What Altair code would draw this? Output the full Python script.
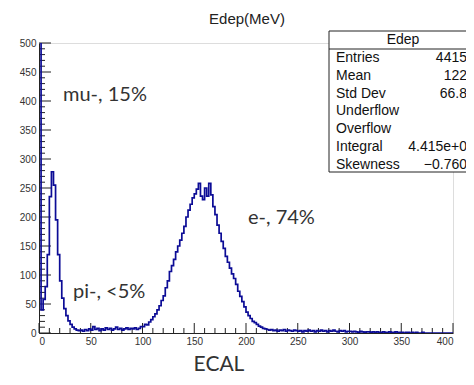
import altair as alt
import pandas as pd

# ---------------- data ----------------
bin_width = 2  # MeV
counts = (
    # 0 - 38
    [900, 40, 58, 80, 135, 235, 278, 255, 195, 135, 90, 60, 42, 30, 21, 15, 10, 7, 5, 4]
    # 40 - 98
    + [5, 3, 6, 4, 7, 5, 11, 6, 8, 4, 7, 5, 9, 6, 8, 5, 7, 10, 6, 8, 5, 7, 9, 6, 8, 7, 9, 6, 8, 11]
    # 100 - 218
    + [11, 15, 14, 19, 23, 28, 33, 40, 47, 56, 64, 78, 90, 106, 116, 127, 140, 150, 160, 172,
       184, 200, 212, 222, 233, 240, 248, 258, 236, 230, 250, 236, 258, 238, 218, 204, 186, 172, 158, 146,
       132, 122, 112, 102, 94, 84, 72, 63, 54, 45, 36, 30, 25, 20, 18, 15, 12, 10, 8, 7]
    # 220 - 298
    + [6, 5, 6, 4, 5, 3, 5, 4, 6, 3, 5, 4, 3, 5, 4, 3, 4, 2, 4, 3,
       5, 3, 4, 2, 4, 3, 5, 3, 4, 2, 4, 3, 5, 3, 2, 4, 3, 4, 2, 3]
    # 300 - 398
    + [3, 2, 3, 2, 1, 3, 2, 1, 2, 2, 1, 2, 1, 2, 1, 1, 2, 1, 1, 2, 1, 1, 2, 1, 1,
       1, 0, 1, 1, 0, 1, 0, 1, 0, 0, 1, 0, 0,
       0, 0, 0, 0, 0, 0, 0, 0, 0, 0, 0, 0]
)
x_ticks = [0, 50, 100, 150, 200, 250, 300, 350, 400]
y_ticks = [0, 50, 100, 150, 200, 250, 300, 350, 400, 450, 500]
chart_title = "Edep(MeV)"
x_title = "ECAL"
stat_header = "Edep"
stat_names = ["Entries", "Mean", "Std Dev", "Underflow", "Overflow", "Integral", "Skewness"]
stat_values = ["4415", "122", "66.8", "", "", "4.415e+0", "\u22120.760"]
annotations = ["mu-, 15%", "pi-, <5%", "e-, 74%"]

# ---------------- build ----------------
edges = [i * bin_width for i in range(len(counts))] + [len(counts) * bin_width]
hist = pd.DataFrame({"x": edges, "y": counts + [counts[-1]]})

xs = alt.Scale(domain=[0, 400], nice=False, zero=False)
ys = alt.Scale(domain=[0, 500], nice=False)

W, H = 414, 290
LINE = "#0c0c96"
TXT = "#333333"

axis_common = dict(ticks=False, grid=False, labelFontSize=10, labelFont="Liberation Sans",
                   labelColor="#333333", domainColor="#222222", title=None, zindex=1,
                   labelPadding=3, labelOverlap=False)
xa = alt.Axis(values=x_ticks, **axis_common)
ya = alt.Axis(values=y_ticks, **axis_common)

xt = pd.DataFrame({"x": list(range(0, 401, 10))})
yt = pd.DataFrame({"y": list(range(0, 501, 10))})

x_minor = alt.Chart(xt).transform_filter("datum.x % 50 != 0").mark_rule(color="#222222", strokeWidth=1).encode(
    x=alt.X("x:Q", scale=xs, axis=xa), y=alt.value(H), y2=alt.value(H - 5))
x_major = alt.Chart(xt).transform_filter("datum.x % 50 == 0").mark_rule(color="#222222", strokeWidth=1).encode(
    x=alt.X("x:Q", scale=xs, axis=xa), y=alt.value(H), y2=alt.value(H - 10))
y_minor = alt.Chart(yt).transform_filter("datum.y % 50 != 0").mark_rule(color="#222222", strokeWidth=1).encode(
    y=alt.Y("y:Q", scale=ys, axis=ya), x=alt.value(0), x2=alt.value(6))
y_major = alt.Chart(yt).transform_filter("datum.y % 50 == 0").mark_rule(color="#222222", strokeWidth=1).encode(
    y=alt.Y("y:Q", scale=ys, axis=ya), x=alt.value(0), x2=alt.value(12))

line = alt.Chart(hist).mark_line(interpolate="step-after", color=LINE, strokeWidth=1.7, clip=True).encode(
    x=alt.X("x:Q", scale=xs, axis=xa),
    y=alt.Y("y:Q", scale=ys, axis=ya),
)


def label(text, x, y, size, font, align="left", color=TXT, baseline="middle"):
    return alt.Chart(pd.DataFrame({"t": [text]})).mark_text(
        align=align, baseline=baseline, fontSize=size, font=font, color=color
    ).encode(text="t:N", x=alt.value(x), y=alt.value(y))


layers = [x_minor, x_major, y_minor, y_major, line]

# title and x title
layers.append(label(chart_title, 208, -24, 15, "Liberation Sans", align="center", color="#222222"))
layers.append(label(x_title, 180, 332, 21, "Lato", align="center", baseline="bottom"))

# annotations
ann_pos = [(24, 52), (34, 249), (209, 175)]
for text, (ax, ay) in zip(annotations, ann_pos):
    layers.append(label(text, ax, ay, 20, "Lato"))

# stats box
box = alt.Chart(pd.DataFrame({"a": [0]})).mark_rect(fill="white", stroke="#222222", strokeWidth=1).encode(
    x=alt.value(290), x2=alt.value(450), y=alt.value(-12), y2=alt.value(129))
hdr_line = alt.Chart(pd.DataFrame({"a": [0]})).mark_rule(color="#222222", strokeWidth=1).encode(
    x=alt.value(290), x2=alt.value(450), y=alt.value(6))
layers += [box, hdr_line]
layers.append(label(stat_header, 364, -3, 14, "Liberation Sans", align="center", color="#111111"))
for i, (n, v) in enumerate(zip(stat_names, stat_values)):
    yy = 15 + i * 17.8
    layers.append(label(n, 297, yy, 14, "Liberation Sans", color="#111111"))
    if v:
        layers.append(label(v, 428, yy, 14, "Liberation Sans", align="right", color="#111111"))

chart = alt.layer(*layers).properties(
    width=W, height=H,
    autosize=alt.AutoSizeParams(type="none"),
    padding={"left": 31, "right": 13, "top": 35, "bottom": 44},
).configure_view(stroke="#222222", strokeWidth=1).configure(background="white")

chart.save("out.html", embed_options={"renderer": "svg", "actions": False})
